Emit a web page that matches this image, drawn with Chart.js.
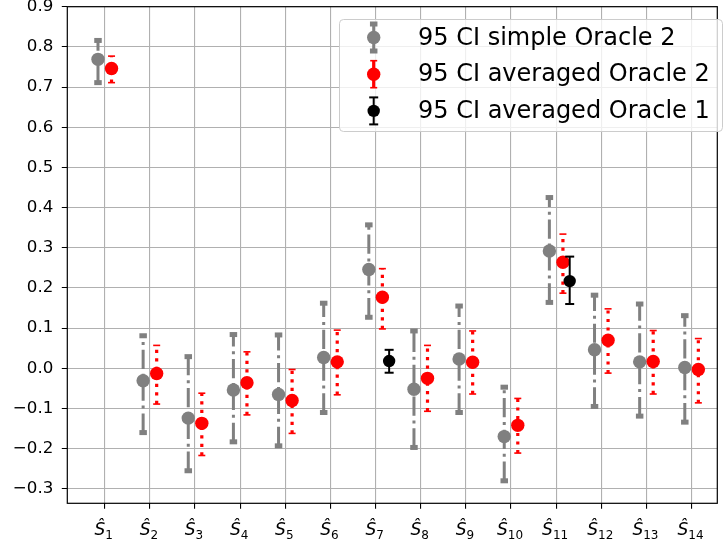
<!DOCTYPE html>
<html>
<head>
<meta charset="utf-8">
<script src="https://cdn.jsdelivr.net/npm/chart.js"></script>
<style>
  html, body { margin: 0; padding: 0; background: #fff; }
  canvas { display: block; }
</style>
</head>
<body>
<canvas id="chart" width="724" height="548"></canvas>
<script>
// data
const categories = ["1", "2", "3", "4", "5", "6", "7", "8", "9", "10", "11", "12", "13", "14"];

const simpleMean = [0.769, -0.031, -0.124, -0.054, -0.065, 0.027, 0.246, -0.052, 0.023, -0.170, 0.292, 0.046, 0.016, 0.002];
const simpleLow  = [0.711, -0.160, -0.255, -0.183, -0.193, -0.110, 0.127, -0.197, -0.110, -0.280, 0.164, -0.095, -0.119, -0.134];
const simpleHigh = [0.816, 0.081, 0.029, 0.084, 0.083, 0.162, 0.357, 0.093, 0.155, -0.047, 0.425, 0.182, 0.160, 0.131];

const avgMean = [0.746, -0.013, -0.137, -0.036, -0.080, 0.016, 0.177, -0.025, 0.015, -0.142, 0.264, 0.070, 0.017, -0.003];
const avgLow  = [0.711, -0.089, -0.217, -0.116, -0.162, -0.066, 0.098, -0.107, -0.064, -0.211, 0.187, -0.012, -0.064, -0.086];
const avgHigh = [0.777, 0.057, -0.062, 0.041, -0.003, 0.095, 0.248, 0.057, 0.093, -0.075, 0.334, 0.148, 0.094, 0.074];

const o1Mean = [null, null, null, null, null, null, 0.018, null, null, null, 0.217, null, null, null];
const o1Low  = [null, null, null, null, null, null, -0.011, null, null, null, 0.160, null, null, null];
const o1High = [null, null, null, null, null, null, 0.046, null, null, null, 0.278, null, null, null];

const yTicks = [-0.3, -0.2, -0.1, 0.0, 0.1, 0.2, 0.3, 0.4, 0.5, 0.6, 0.7, 0.8, 0.9];

const FONT = "'DejaVu Sans', sans-serif";

function points(mean, low, high, shift) {
  const out = [];
  categories.forEach((c, i) => {
    if (mean[i] === null) return;
    out.push({ x: i + 1 + shift, y: mean[i], low: low[i], high: high[i] });
  });
  return out;
}

// draws each dataset's CI bars right before its markers
const errorBars = {
  id: 'errorBars',
  beforeDatasetDraw(chart, args) {
    const ds = chart.data.datasets[args.index];
    const st = ds.err;
    const xs = chart.scales.x, ys = chart.scales.y;
    const ctx = chart.ctx;
    ctx.save();
    ds.data.forEach(p => {
      const px = xs.getPixelForValue(p.x);
      const lo = ys.getPixelForValue(p.low);
      const hi = ys.getPixelForValue(p.high);
      ctx.strokeStyle = st.color;
      ctx.fillStyle = st.color;
      ctx.lineWidth = st.width;
      ctx.lineCap = 'butt';
      ctx.setLineDash(st.dash);
      ctx.beginPath();
      ctx.moveTo(px, lo);
      ctx.lineTo(px, hi);
      ctx.stroke();
      ctx.setLineDash([]);
      [lo, hi].forEach(cy => {
        ctx.fillRect(px - st.capW / 2, cy - st.capH / 2, st.capW, st.capH);
      });
    });
    ctx.restore();
  }
};

// matplotlib-like frame on all four sides
const spines = {
  id: 'spines',
  afterDatasetsDraw(chart) {
    const a = chart.chartArea, ctx = chart.ctx;
    ctx.save();
    ctx.strokeStyle = '#000';
    ctx.lineWidth = 1.2;
    ctx.strokeRect(a.left, a.top, a.right - a.left, a.bottom - a.top);
    ctx.restore();
  }
};

// x tick labels as \hat{S}_i
const hatLabels = {
  id: 'hatLabels',
  afterDraw(chart) {
    const xs = chart.scales.x, ctx = chart.ctx;
    ctx.save();
    ctx.fillStyle = '#000';
    ctx.textBaseline = 'alphabetic';
    ctx.textAlign = 'left';
    categories.forEach((c, i) => {
      const x = xs.getPixelForValue(i + 1);
      ctx.font = "italic 17px " + FONT;
      const wS = ctx.measureText('\u015C').width;
      ctx.font = "12px " + FONT;
      const wSub = ctx.measureText(c).width;
      const x0 = x - (wS + wSub) / 2 - 1;
      ctx.font = "italic 17px " + FONT;
      ctx.fillText('\u015C', x0, 535);
      ctx.font = "12px " + FONT;
      ctx.fillText(c, x0 + wS, 539);
    });
    ctx.restore();
  }
};

// legend with error bar glyphs
const ciLegend = {
  id: 'ciLegend',
  afterDraw(chart) {
    const ctx = chart.ctx;
    const bx = 339, by = 19, bw = 383, bh = 112;
    ctx.save();
    ctx.beginPath();
    ctx.roundRect(bx + 0.5, by + 0.5, bw, bh, 4);
    ctx.fillStyle = 'rgba(255,255,255,0.8)';
    ctx.fill();
    ctx.strokeStyle = '#cccccc';
    ctx.lineWidth = 1;
    ctx.stroke();
    const sets = [0, 1, 2].map(i => chart.data.datasets[i]);
    sets.forEach((ds, k) => {
      const cy = 37.5 + k * 36.7;
      const gx = 373.7;
      const st = ds.err;
      const half = 13.5;
      ctx.strokeStyle = st.color;
      ctx.fillStyle = st.color;
      ctx.lineWidth = st.width;
      ctx.beginPath();
      ctx.moveTo(gx, cy - half);
      ctx.lineTo(gx, cy + half);
      ctx.stroke();
      ctx.fillRect(gx - st.capW / 2, cy - half - st.capH / 2, st.capW, st.capH);
      ctx.fillRect(gx - st.capW / 2, cy + half - st.capH / 2, st.capW, st.capH);
      ctx.beginPath();
      ctx.arc(gx, cy, ds.pointRadius, 0, Math.PI * 2);
      ctx.fill();
      ctx.fillStyle = '#000';
      ctx.font = "24px " + FONT;
      ctx.textBaseline = 'middle';
      ctx.textAlign = 'left';
      ctx.fillText(ds.label, 418, cy + 1);
    });
    ctx.restore();
  }
};

new Chart(document.getElementById('chart'), {
  type: 'scatter',
  data: {
    datasets: [
      {
        label: '95 CI simple Oracle 2',
        data: points(simpleMean, simpleLow, simpleHigh, -0.15),
        backgroundColor: '#808080',
        pointRadius: 6.7,
        pointBorderWidth: 0,
        order: 3,
        err: { color: '#808080', width: 3, dash: [19.2, 4.8, 3, 4.8], capW: 7.5, capH: 5 }
      },
      {
        label: '95 CI averaged Oracle 2',
        data: points(avgMean, avgLow, avgHigh, 0.15),
        backgroundColor: '#ff0000',
        pointRadius: 6.7,
        pointBorderWidth: 0,
        order: 2,
        err: { color: '#ff0000', width: 3.2, dash: [3.2, 5.3], capW: 7, capH: 1.6 }
      },
      {
        label: '95 CI averaged Oracle 1',
        data: points(o1Mean, o1Low, o1High, 0.3),
        backgroundColor: '#000000',
        pointRadius: 6.2,
        pointBorderWidth: 0,
        order: 1,
        err: { color: '#000000', width: 2, dash: [], capW: 9, capH: 2 }
      }
    ]
  },
  options: {
    responsive: false,
    animation: false,
    events: [],
    layout: { padding: { top: 6.5, right: 1, left: 0, bottom: 0 } },
    plugins: { legend: { display: false }, tooltip: { enabled: false } },
    scales: {
      x: {
        type: 'linear',
        min: 0.17,
        max: 14.57,
        afterBuildTicks: s => { s.ticks = categories.map((c, i) => ({ value: i + 1 })); },
        afterFit: s => { s.height = 44.7; },
        ticks: { display: false },
        border: { display: false },
        grid: { color: '#b0b0b0', lineWidth: 1.1, tickLength: 5.5, tickColor: '#000', tickWidth: 1.1, tickBorderDash: [] }
      },
      y: {
        min: -0.336,
        max: 0.9,
        afterBuildTicks: s => { s.ticks = yTicks.map(v => ({ value: v })); },
        afterFit: s => { s.width = 67.3; },
        ticks: {
          padding: 0,
          color: '#000',
          font: { family: FONT, size: 16.7, lineHeight: 0.75 },
          callback: v => v.toFixed(1).replace('-', '\u2212')
        },
        border: { display: false },
        grid: {
          color: '#b0b0b0', lineWidth: 1.1, tickLength: 14,
          tickColor: '#000', tickWidth: 1.1, tickBorderDash: [0, 8.5, 5.5, 50]
        }
      }
    }
  },
  plugins: [errorBars, spines, hatLabels, ciLegend]
});
</script>
</body>
</html>
